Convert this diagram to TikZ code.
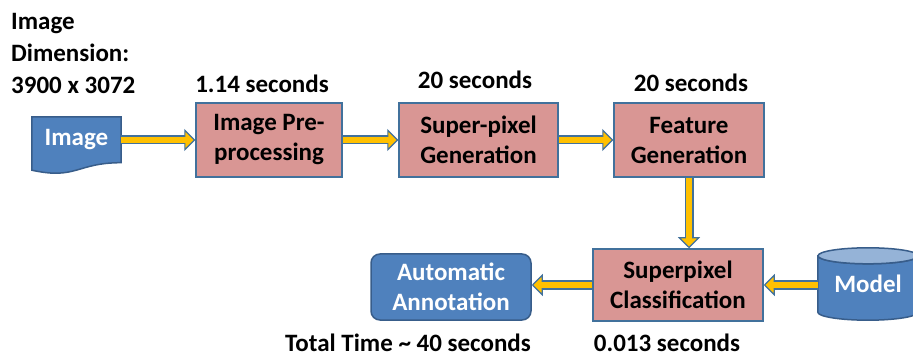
\documentclass[tikz,border=0pt]{standalone}
\usepackage{fontspec}
\setmainfont{Carlito}
\usetikzlibrary{arrows.meta,calc,backgrounds}
\definecolor{boxfill}{HTML}{D99694}
\definecolor{boxline}{HTML}{41719C}
\definecolor{bluefill}{HTML}{4F81BD}
\definecolor{blueline}{HTML}{385D8A}
\definecolor{bluetop}{HTML}{95B3D7}
\definecolor{flowyellow}{HTML}{FFC000}
\newcommand{\bigbf}{\fontsize{25}{30}\selectfont\bfseries}

\begin{document}
\begin{tikzpicture}
[
x=1pt,y=1pt,
stepbox/.style 2 args={draw=boxline,line width=1.5pt,fill=boxfill,align=center,font=\bigbf,inner sep=0pt,minimum width=#1,minimum height=#2},
bluebox/.style 2 args={draw=blueline,line width=1.5pt,fill=bluefill,text=white,align=center,font=\bigbf,inner sep=0pt,minimum width=#1,minimum height=#2},
timing/.style={font=\bigbf,inner sep=0pt},
flow/.style={draw=boxline,line width=9pt,-{Triangle[length=11pt,width=22pt,line width=1.2pt,fill=flowyellow]},
            postaction={draw=flowyellow,line width=6.5pt,shorten >=9pt,-}},
]
\useasboundingbox (0,0) rectangle (913,359);

%Place the nodes
\node[text=white,font=\bigbf,inner sep=0pt,minimum width=89pt,minimum height=46pt] (img) at (76.5,219) {Image};
\node[stepbox={146pt}{74pt}] (pre) at (269,219) {Image Pre-\\processing};
\node[stepbox={159pt}{74pt}] (sup) at (478.5,219) {Super-pixel\\Generation};
\node[stepbox={150pt}{74pt}] (feat) at (689,219) {Feature\\Generation};
\node[stepbox={170pt}{72pt}] (cls) at (678,74) {Superpixel\\Classification};
\node[bluebox={160pt}{66pt},rounded corners=9pt] (ann) at (451,72) {Automatic\\Annotation};
\node[text=white,font=\bigbf,inner sep=0pt,minimum width=100pt,minimum height=72pt] (model) at (868,75) {Model};

%Shapes behind the document and the store
\begin{scope}[on background layer]
\draw[draw=blueline,line width=1.5pt,fill=bluefill] (img.north west) -- (img.north east) -- ($(img.south east)+(0,0.5)$)
   .. controls ($(img.south)+(0,0.5)$) and ($(img.south)+(0,-16.8)$) .. ($(img.south west)+(0,-7)$) -- cycle;
\draw[draw=blueline,line width=1.5pt,fill=bluefill] ($(model.north west)+(0,-8)$) -- ($(model.south west)+(0,8)$)
   arc[start angle=180,end angle=360,x radius=50pt,y radius=8pt] -- ($(model.north east)+(0,-8)$)
   arc[start angle=0,end angle=-180,x radius=50pt,y radius=8pt] -- cycle;
\draw[draw=blueline,line width=1.5pt,fill=bluetop] ($(model.north)+(0,-8)$) ellipse[x radius=50pt,y radius=8pt];
\end{scope}

%Timings and notes
\node[timing,align=left,anchor=north west,font=\fontsize{25}{32}\selectfont\bfseries] (dim) at (11,346) {Image\\Dimension:\\3900 x 3072};
\node[timing] (tpre) at (262,275) {1.14 seconds};
\node[timing] (tsup) at (475,279) {20 seconds};
\node[timing] (tfeat) at (691,276) {20 seconds};
\node[timing] (ttotal) at (408,16) {Total Time \textasciitilde{} 40 seconds};
\node[timing] (tcls) at (667,16) {0.013 seconds};

%Draw the connections
\draw[flow] (img.east) -- (pre.west);
\draw[flow] (pre.east) -- (sup.west);
\draw[flow] (sup.east) -- (feat.west);
\draw[flow] (feat.south) -- (feat.south |- cls.north);
\draw[flow] (model.west |- cls.east) -- (cls.east);
\draw[flow] (cls.west) -- (cls.west -| ann.east);
\end{tikzpicture}
\end{document}
